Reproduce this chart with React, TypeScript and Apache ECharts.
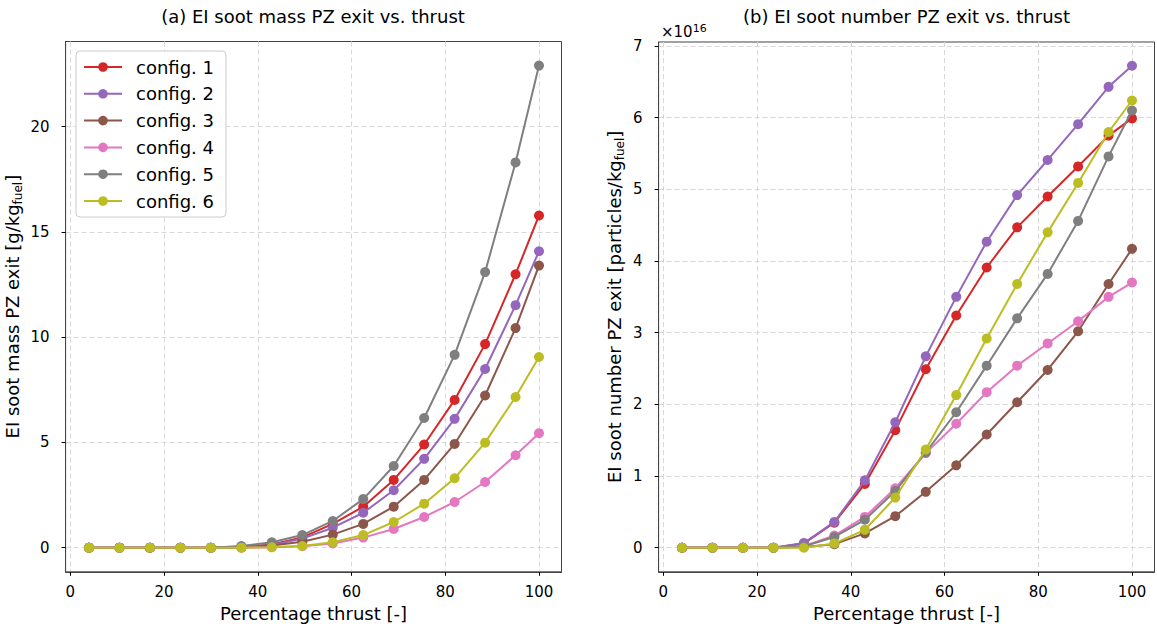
import React, { useEffect, useRef } from "react";
import * as echarts from "echarts";

const thrust = [4, 10.5, 17, 23.5, 30, 36.5, 43, 49.5, 56, 62.5, 69, 75.5, 82, 88.5, 95, 100];

const configNames = ["config. 1", "config. 2", "config. 3", "config. 4", "config. 5", "config. 6"];
const configColors = ["#d62728", "#9467bd", "#8c564b", "#e377c2", "#7f7f7f", "#bcbd22"];

// EI soot mass PZ exit [g/kg_fuel]
const mass1 = [0, 0, 0, 0, 0, 0.03, 0.15, 0.49, 1.13, 1.95, 3.22, 4.9, 7.02, 9.67, 12.99, 15.78];
const mass2 = [0, 0, 0, 0, 0, 0.02, 0.13, 0.43, 0.95, 1.66, 2.73, 4.22, 6.12, 8.49, 11.52, 14.08];
const mass3 = [0, 0, 0, 0, 0, 0.02, 0.1, 0.28, 0.62, 1.13, 1.95, 3.22, 4.93, 7.23, 10.43, 13.4];
const mass4 = [0, 0, 0, 0, 0, 0.0, 0.02, 0.07, 0.2, 0.48, 0.89, 1.46, 2.17, 3.12, 4.39, 5.44];
const mass5 = [0, 0, 0, 0, 0, 0.08, 0.26, 0.6, 1.27, 2.31, 3.88, 6.16, 9.16, 13.09, 18.3, 22.9];
const mass6 = [0, 0, 0, 0, 0, 0, 0.02, 0.08, 0.26, 0.6, 1.22, 2.09, 3.3, 4.99, 7.16, 9.06];

// EI soot number PZ exit, in units of 1e16 particles/kg_fuel
const numberE16_1 = [0, 0, 0, 0, 0.06, 0.35, 0.89, 1.64, 2.49, 3.24, 3.91, 4.47, 4.9, 5.32, 5.75, 5.99];
const numberE16_2 = [0, 0, 0, 0, 0.065, 0.36, 0.94, 1.75, 2.67, 3.5, 4.27, 4.92, 5.41, 5.91, 6.43, 6.725];
const numberE16_3 = [0, 0, 0, 0, 0.01, 0.05, 0.2, 0.44, 0.78, 1.15, 1.58, 2.03, 2.48, 3.02, 3.68, 4.17];
const numberE16_4 = [0, 0, 0, 0, 0.02, 0.17, 0.43, 0.83, 1.32, 1.73, 2.17, 2.54, 2.85, 3.16, 3.5, 3.7];
const numberE16_5 = [0, 0, 0, 0, 0.02, 0.15, 0.39, 0.79, 1.33, 1.89, 2.54, 3.2, 3.82, 4.56, 5.46, 6.1];
const numberE16_6 = [0, 0, 0, 0, 0, 0.06, 0.25, 0.7, 1.37, 2.13, 2.92, 3.68, 4.4, 5.09, 5.8, 6.24];

const xTicks = [0, 20, 40, 60, 80, 100];
const massTicks = [0, 5, 10, 15, 20];
const numberTicks = [0, 1, 2, 3, 4, 5, 6, 7];

const massSeries = [mass1, mass2, mass3, mass4, mass5, mass6];
const numberSeries = [numberE16_1, numberE16_2, numberE16_3, numberE16_4, numberE16_5, numberE16_6];

const FONT = "DejaVu Sans";
const FRAME = "#444";
const GRIDC = "#d8d8d8";

function xAxisFor(gridIndex: number) {
  return {
    type: "value",
    gridIndex,
    min: -1,
    max: 104.8,
    name: "Percentage thrust [-]",
    nameLocation: "middle",
    nameGap: 33,
    nameTextStyle: { fontSize: 18, color: "#000", fontFamily: FONT },
    axisLine: { show: true, onZero: false, lineStyle: { color: FRAME, width: 1 } },
    axisTick: { show: true, length: 4, lineStyle: { color: "#000" }, customValues: xTicks },
    axisLabel: { fontSize: 15, color: "#000", fontFamily: FONT, margin: 13, customValues: xTicks },
    splitLine: { show: true, lineStyle: { color: GRIDC, type: [5, 3], width: 1 } },
  };
}

function yAxisFor(gridIndex: number, min: number, max: number, ticks: number[], name: string, nameGap: number) {
  return {
    type: "value",
    gridIndex,
    min,
    max,
    name,
    nameLocation: "middle",
    nameGap,
    nameTextStyle: {
      fontSize: 18,
      color: "#000",
      fontFamily: FONT,
      rich: {
        m: { fontSize: 18, color: "#000", fontFamily: FONT, lineHeight: 22 },
        s: { fontSize: 12, color: "#000", fontFamily: FONT, lineHeight: 12, verticalAlign: "bottom" },
      },
    },
    axisLine: { show: true, onZero: false, lineStyle: { color: FRAME, width: 1 } },
    axisTick: { show: true, length: 4, lineStyle: { color: "#000" }, customValues: ticks },
    axisLabel: { fontSize: 15, color: "#000", fontFamily: FONT, margin: 16, customValues: ticks },
    splitLine: { show: true, lineStyle: { color: GRIDC, type: [5, 3], width: 1 } },
  };
}

export default function App() {
  const ref = useRef<HTMLDivElement>(null);
  useEffect(() => {
    if (!ref.current) return;
    const chart = echarts.init(ref.current, undefined, { renderer: "svg" });
    const series: any[] = [];
    configNames.forEach((name, i) => {
      series.push({
        type: "line",
        name,
        xAxisIndex: 0,
        yAxisIndex: 0,
        data: thrust.map((x, k) => [x, massSeries[i][k]]),
        symbol: "circle",
        symbolSize: 10,
        showSymbol: true,
        color: configColors[i],
        lineStyle: { width: 2, color: configColors[i] },
        itemStyle: { color: configColors[i] },
        z: 3 + i,
      });
    });
    configNames.forEach((name, i) => {
      series.push({
        type: "line",
        name,
        xAxisIndex: 1,
        yAxisIndex: 1,
        data: thrust.map((x, k) => [x, numberSeries[i][k]]),
        symbol: "circle",
        symbolSize: 10,
        showSymbol: true,
        color: configColors[i],
        lineStyle: { width: 2, color: configColors[i] },
        itemStyle: { color: configColors[i] },
        z: 3 + i,
      });
    });
    chart.setOption({
      animation: false,
      textStyle: { fontFamily: FONT },
      grid: [
        { left: 65.6, top: 41.5, width: 495.9, height: 530.3, show: true, borderColor: FRAME, borderWidth: 1, containLabel: false },
        { left: 658.6, top: 42, width: 495.9, height: 529.8, show: true, borderColor: FRAME, borderWidth: 1, containLabel: false },
      ],
      xAxis: [xAxisFor(0), xAxisFor(1)],
      yAxis: [
        yAxisFor(0, -1.145, 24.045, massTicks, "{m|EI soot mass PZ exit [g/kg}{s|fuel}{m|]}", 42),
        yAxisFor(1, -0.336, 7.056, numberTicks, "{m|EI soot number PZ exit [particles/kg}{s|fuel}{m|]}", 33),
      ],
      legend: {
        data: configNames,
        orient: "vertical",
        left: 76,
        top: 51,
        itemWidth: 38,
        itemHeight: 12,
        itemGap: 8.8,
        padding: [7, 12, 7, 7],
        borderColor: "#ccc",
        borderWidth: 1,
        borderRadius: 4,
        backgroundColor: "rgba(255,255,255,0.85)",
        textStyle: { fontSize: 18, color: "#000", fontFamily: FONT, lineHeight: 18, padding: [0, 0, 0, 9] },
      },
      graphic: [
        {
          type: "text",
          x: 313,
          y: 16,
          style: { text: "(a) EI soot mass PZ exit vs. thrust", fontSize: 18, fontFamily: FONT, fill: "#000", align: "center", verticalAlign: "middle" },
        },
        {
          type: "text",
          x: 906.5,
          y: 16,
          style: { text: "(b) EI soot number PZ exit vs. thrust", fontSize: 18, fontFamily: FONT, fill: "#000", align: "center", verticalAlign: "middle" },
        },
        {
          type: "text",
          x: 661,
          y: 32,
          style: {
            text: "×10{sup|16}",
            fontSize: 15,
            fontFamily: FONT,
            fill: "#000",
            align: "left",
            verticalAlign: "middle",
            rich: { sup: { fontSize: 11, fontFamily: FONT, fill: "#000", verticalAlign: "top", lineHeight: 18 } },
          },
        },
      ],
      series,
    });
    return () => chart.dispose();
  }, []);
  return <div ref={ref} style={{ position: "fixed", left: 0, top: 0, width: 1157, height: 629, background: "#fff" }} />;
}
